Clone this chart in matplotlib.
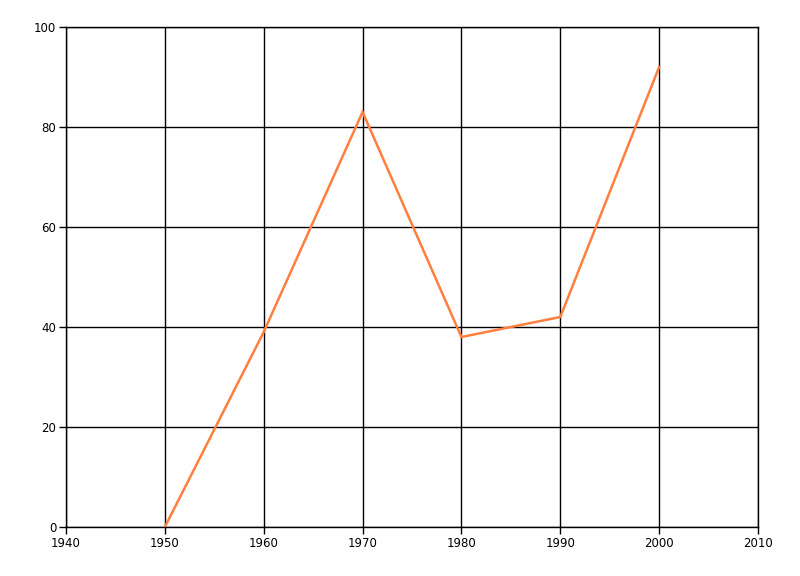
import matplotlib
matplotlib.use("Agg")
import matplotlib.pyplot as plt

years = [1950, 1960, 1970, 1980, 1990, 2000]
values = [0, 39, 83, 38, 42, 92]
x_ticks = [1940, 1950, 1960, 1970, 1980, 1990, 2000, 2010]
y_ticks = [0, 20, 40, 60, 80, 100]

fig = plt.figure(figsize=(8, 5.76), dpi=100)
ax = fig.add_axes([66 / 800, 49 / 576, 692 / 800, 500 / 576])

ax.plot(years, values, color="#FF7F3F", linewidth=1.8, solid_joinstyle="miter", zorder=3)

ax.set_xlim(1940, 2010)
ax.set_ylim(0, 100)
ax.set_xticks(x_ticks)
ax.set_yticks(y_ticks)
ax.grid(True, color="black", linewidth=1)
ax.set_axisbelow(True)
# outer frame doubles as the 100 / 2010 grid lines
for sp in ax.spines.values():
    sp.set_color("black")
    sp.set_linewidth(1)
ax.tick_params(direction="out", length=5, width=1, labelsize=8.5, colors="black", pad=2)
ax.tick_params(top=False, right=False)

fig.savefig("out.png", dpi=100, facecolor="white")
